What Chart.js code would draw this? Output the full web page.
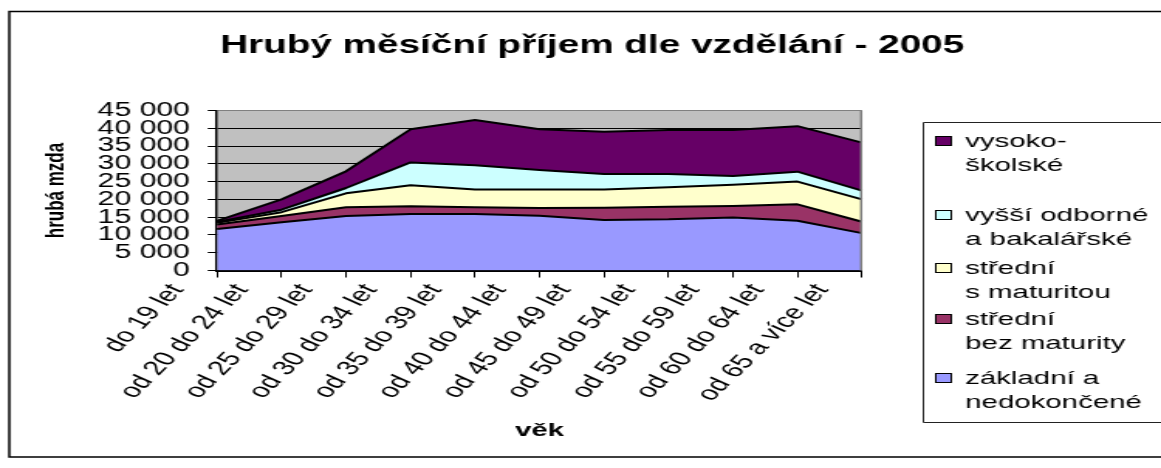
<!DOCTYPE html>
<html>
<head>
<meta charset="utf-8">
<script src="https://cdn.jsdelivr.net/npm/chart.js@4"></script>
<style>
  html, body { margin: 0; padding: 0; background: #fff; overflow: hidden; }
  #myChart { display: block; width: 1161px; height: 468px; }
</style>
</head>
<body>
<canvas id="myChart" width="750" height="468" style="width:1161px;height:468px"></canvas>
<script>
// age groups (x categories)
const ageGroups = ["do 19 let", "od 20 do 24 let", "od 25 do 29 let", "od 30 do 34 let", "od 35 do 39 let",
    "od 40 do 44 let", "od 45 do 49 let", "od 50 do 54 let", "od 55 do 59 let", "od 60 do 64 let", "od 65 a více let"];

// series, bottom of the stack first
const seriesNames = ["základní a\nnedokončené", "střední\nbez maturity", "střední\ns maturitou",
    "vyšší odborné\na bakalářské", "vysoko-\nškolské"];
const zakladni = [11700, 13600, 15300, 15900, 15900, 15400, 14200, 14400, 14900, 14000, 10500];
const bezMaturity = [1250, 1700, 2500, 2200, 1900, 2200, 3450, 3550, 3250, 4600, 3200];
const sMaturitou = [450, 1100, 3900, 5900, 5000, 5200, 5150, 5450, 5950, 6400, 6300];
const vyssiOdborne = [250, 700, 1500, 6400, 6800, 5450, 4350, 3750, 2500, 2800, 2450];
const vysokoskolske = [300, 2900, 4700, 9300, 12700, 11450, 11900, 12350, 12900, 12800, 13500];

const yMax = 45000;
const yStep = 5000;

const colors = ["#9999FF", "#993366", "#FFFFCC", "#CCFFFF", "#660066"];
const FONT = '"Liberation Sans", Arial, sans-serif';

Chart.defaults.font.family = FONT;
Chart.defaults.color = "#000";

// open box: top, left and bottom sides only (right side is cut off in the original)
function openBox(ctx, x, top, bottom, right) {
    ctx.beginPath();
    ctx.moveTo(right, top);
    ctx.lineTo(x, top);
    ctx.lineTo(x, bottom);
    ctx.lineTo(right, bottom);
    ctx.stroke();
}

// Excel-ish extras: grey plot, frame, shifted slanted labels, boxed legend
const excelLook = {
    id: "excelLook",
    beforeDraw(chart) {
        const {ctx, chartArea: a} = chart;
        ctx.save();
        ctx.fillStyle = "#C0C0C0";
        ctx.fillRect(a.left, a.top, a.right - a.left, a.bottom - a.top);
        ctx.restore();
    },
    afterDatasetsDraw(chart) {
        const {ctx, chartArea: a} = chart;
        ctx.save();
        ctx.strokeStyle = "#808080";
        ctx.lineWidth = 1.5;
        ctx.beginPath();
        ctx.moveTo(a.right - 0.5, a.top);
        ctx.lineTo(a.right - 0.5, a.bottom);
        ctx.stroke();
        ctx.restore();
    },
    afterDraw(chart) {
        const ctx = chart.ctx;
        const w = chart.width + 20;
        ctx.save();

        // outer frame
        ctx.strokeStyle = "#000";
        ctx.lineWidth = 1.5;
        openBox(ctx, 6, 11.5, 457, w);

        // category labels, slanted, one slot to the left like the original
        const xs = chart.scales.x;
        const step = xs.getPixelForValue(1) - xs.getPixelForValue(0);
        ctx.font = "20px " + FONT;
        ctx.fillStyle = "#000";
        ctx.textAlign = "right";
        ctx.textBaseline = "middle";
        chart.data.labels.forEach((lab, i) => {
            const x = xs.getPixelForValue(i) - step + 16;
            const y = xs.top + 16;
            ctx.save();
            ctx.translate(x, y);
            ctx.rotate(-56 * Math.PI / 180);
            ctx.fillText(lab, 0, 0);
            ctx.restore();
        });

        // legend
        ctx.lineWidth = 1;
        ctx.strokeStyle = "#222";
        openBox(ctx, 596.5, 122.5, 422.5, w);
        const rowY = [143, 217, 270, 321, 380];
        ctx.font = "19px " + FONT;
        ctx.textAlign = "left";
        const sets = chart.data.datasets.slice().reverse();
        sets.forEach((ds, k) => {
            const y0 = rowY[k];
            ctx.fillStyle = ds.backgroundColor;
            ctx.fillRect(604, y0 - 7, 11, 10);
            ctx.strokeStyle = "#000";
            ctx.strokeRect(604.5, y0 - 6.5, 10, 9);
            ctx.fillStyle = "#000";
            ds.label.split("\n").forEach((line, j) => {
                ctx.fillText(line, 623.5, y0 - 1.5 + j * 24.5);
            });
        });
        ctx.restore();
    }
};

const seriesValues = [zakladni, bezMaturity, sMaturitou, vyssiOdborne, vysokoskolske];

const ctx = document.getElementById("myChart").getContext("2d");
const chart = new Chart(ctx, {
    type: "line",
    data: {
        labels: ageGroups,
        datasets: seriesValues.map((vals, i) => ({
            label: seriesNames[i],
            data: vals,
            backgroundColor: colors[i],
            borderColor: "#000",
            borderWidth: 2,
            borderJoinStyle: "round",
            fill: i === 0 ? "origin" : "-1",
            pointRadius: 0,
            tension: 0
        }))
    },
    options: {
        responsive: false,
        animation: false,
        devicePixelRatio: 1,
        layout: { padding: { left: 15, right: 0, top: 0, bottom: 10 } },
        plugins: {
            legend: { display: false },
            tooltip: { enabled: false },
            title: {
                display: true,
                text: "Hrubý měsíční příjem dle vzdělání - 2005",
                font: { size: 25, weight: "bold" },
                color: "#000",
                padding: { top: 31, bottom: 49.5 }
            }
        },
        scales: {
            x: {
                offset: false,
                ticks: { display: false },
                grid: { drawOnChartArea: false, drawTicks: true, tickLength: 7, tickColor: "#000", lineWidth: 1 },
                border: { display: true, color: "#000", width: 2 },
                title: { display: true, text: "věk", font: { size: 19, weight: "bold" }, padding: { top: 0, bottom: 15.5 } },
                afterFit(scale) {
                    scale.height = 187.5;
                    scale.paddingLeft = 0;
                    scale.paddingRight = 193.2;
                }
            },
            y: {
                stacked: true,
                min: 0,
                max: yMax,
                ticks: {
                    stepSize: yStep,
                    autoSkip: false,
                    padding: 11.5,
                    font: { size: 19.5 },
                    color: "#000",
                    callback: v => String(v).replace(/\B(?=(\d{3})+(?!\d))/g, " ")
                },
                grid: {
                    color: c => (c.tick && c.tick.value === yMax) ? "#808080" : "#000",
                    tickColor: "#000",
                    tickLength: 6,
                    lineWidth: 1
                },
                border: { display: true, color: "#000", width: 1.5 },
                title: { display: true, text: "hrubá mzda", font: { size: 17, weight: "bold" }, padding: { top: 11.5, bottom: 0 } },
                afterFit(scale) {
                    scale.width = 125.2;
                }
            }
        }
    },
    plugins: [excelLook]
});
</script>
</body>
</html>
